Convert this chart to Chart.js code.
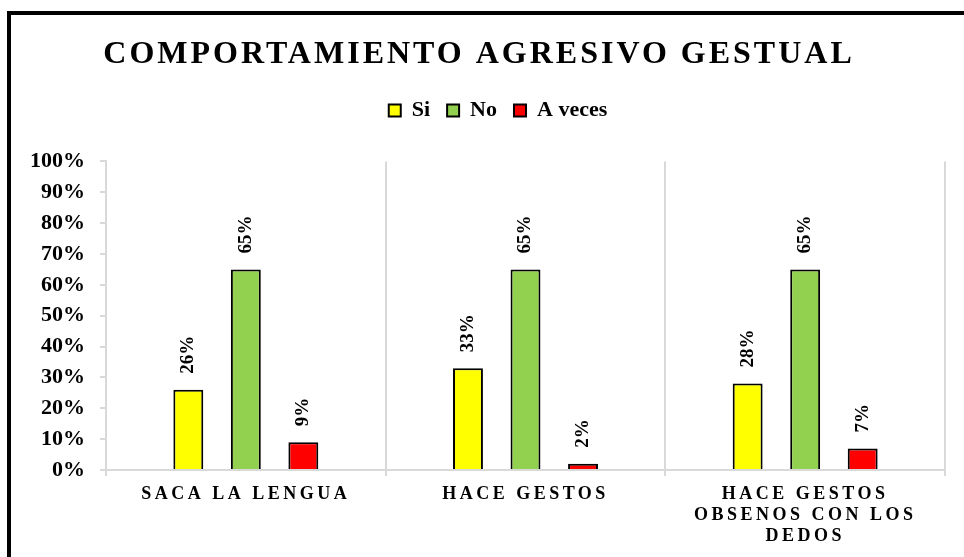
<!DOCTYPE html>
<html>
<head>
<meta charset="utf-8">
<script src="https://cdn.jsdelivr.net/npm/chart.js@4.4.1/dist/chart.umd.min.js"></script>
<style>
    html, body { margin: 0; padding: 0; background: #fff; overflow: hidden; }
    #wrap { position: relative; width: 964px; height: 557px; }
    #frame { position: absolute; left: 7px; top: 11px; width: 1000px; height: 1000px; border: 4px solid #000; pointer-events: none; }
</style>
</head>
<body>
<div id="wrap">
    <canvas id="chart1" width="964" height="557"></canvas>
    <div id="frame"></div>
</div>
<script>
var categories = [['SACA LA LENGUA'], ['HACE GESTOS'], ['HACE GESTOS', 'OBSENOS CON LOS', 'DEDOS']];
var seriesNames = ['Si', 'No', 'A veces'];
var siValues = [0.26, 0.33, 0.28];
var noValues = [0.65, 0.65, 0.65];
var aVecesValues = [0.09, 0.02, 0.07];
var seriesColors = ['#FFFF00', '#92D050', '#FF0000'];

var serif = '"Liberation Serif", "Times New Roman", serif';

// wrap a draw method so its text gets canvas letter spacing
function spaced(obj, method, spacing) {
    var orig = obj[method];
    obj[method] = function () {
        var ctx = this.ctx;
        ctx.save();
        ctx.letterSpacing = spacing;
        orig.apply(this, arguments);
        ctx.restore();
    };
}

var layoutTweaks = {
    id: 'layoutTweaks',
    beforeInit: function (chart) {
        var fit = chart.legend.fit;
        chart.legend.fit = function () {
            fit.call(this);
            this.height += 30;
        };
        spaced(chart.titleBlock, 'draw', '3px');
    },
    afterLayout: function (chart) {
        // legend sits a bit right of the title in the original
        chart.legend.left += 19;
        chart.legend.right += 19;
    },
    beforeDraw: function (chart) {
        var x = chart.scales.x;
        if (!x._spaced) {
            spaced(x, 'drawLabels', '3.5px');
            x._spaced = true;
        }
    }
};

var barLabels = {
    id: 'barLabels',
    afterDatasetsDraw: function (chart) {
        var ctx = chart.ctx;
        ctx.save();
        ctx.font = 'bold 19px ' + serif;
        ctx.fillStyle = '#000';
        ctx.textAlign = 'left';
        ctx.textBaseline = 'middle';
        chart.data.datasets.forEach(function (ds, i) {
            chart.getDatasetMeta(i).data.forEach(function (bar, j) {
                ctx.save();
                ctx.translate(bar.x, bar.y - 16);
                ctx.rotate(-Math.PI / 2);
                ctx.fillText(Math.round(ds.data[j] * 100) + '%', 0, 0);
                ctx.restore();
            });
        });
        ctx.restore();
    }
};

var values = [siValues, noValues, aVecesValues];
var datasets = [];
for (var s = 0; s < seriesNames.length; s++) {
    datasets.push({
        label: seriesNames[s],
        data: values[s],
        backgroundColor: seriesColors[s],
        borderColor: '#000',
        borderWidth: 2,
        categoryPercentage: 0.617,
        barPercentage: 0.52
    });
}

var config = {
    type: 'bar',
    plugins: [layoutTweaks, barLabels],
    data: {
        labels: categories,
        datasets: datasets
    },
    options: {
        responsive: false,
        animation: false,
        layout: { padding: { left: 13, right: 19, top: 0, bottom: 0 } },
        plugins: {
            title: {
                display: true,
                text: 'COMPORTAMIENTO AGRESIVO GESTUAL',
                color: '#000',
                font: { family: serif, size: 32, weight: 'bold' },
                padding: { top: 36, bottom: 8 }
            },
            legend: {
                position: 'top',
                labels: {
                    boxWidth: 12,
                    boxHeight: 12,
                    padding: 17,
                    color: '#000',
                    font: { family: serif, size: 22, weight: 'bold' }
                }
            },
            tooltip: { enabled: false }
        },
        scales: {
            x: {
                offset: true,
                grid: { offset: true, color: '#d9d9d9', lineWidth: 2, tickLength: 6 },
                border: { color: '#d9d9d9', width: 2 },
                ticks: {
                    color: '#000',
                    font: { family: serif, size: 18, weight: 'bold', lineHeight: 1.17 },
                    padding: 8,
                    maxRotation: 0,
                    autoSkip: false
                },
                afterFit: function (scale) { scale.height = 87; }
            },
            y: {
                min: 0,
                max: 1,
                grid: { drawOnChartArea: false, color: '#d9d9d9', lineWidth: 2, tickLength: 6 },
                border: { color: '#d9d9d9', width: 2 },
                ticks: {
                    stepSize: 0.1,
                    color: '#000',
                    padding: 15,
                    font: { family: serif, size: 22, weight: 'bold' },
                    callback: function (v) { return Math.round(v * 100) + '%'; }
                },
                afterFit: function (scale) { scale.width = 93; }
            }
        }
    }
};

var ctx = document.getElementById('chart1').getContext('2d');
var chart1 = new Chart(ctx, config);
</script>
</body>
</html>
